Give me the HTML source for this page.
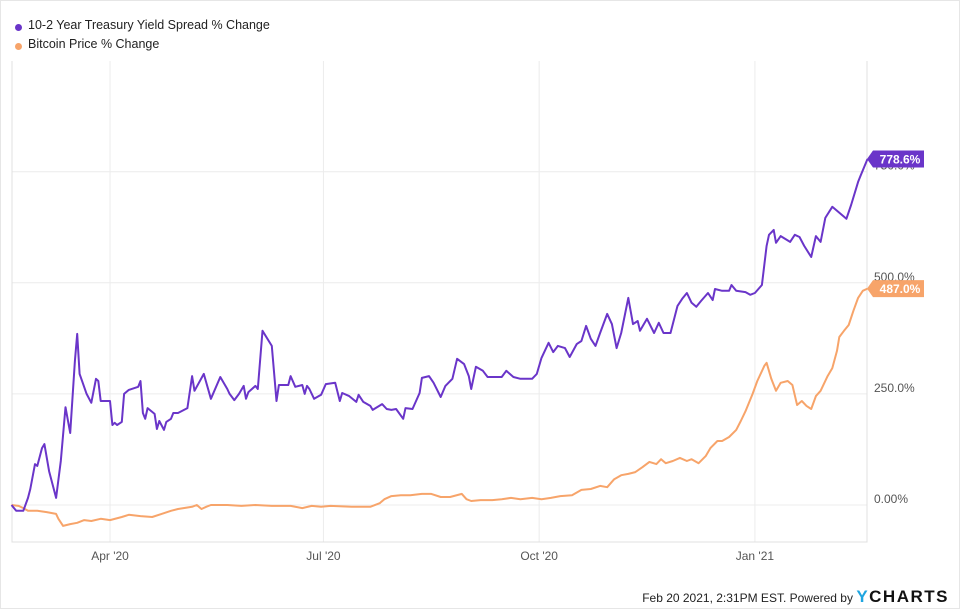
<!DOCTYPE html>
<html><head><meta charset="utf-8">
<style>
html,body{margin:0;padding:0;background:#fff;}
#wrap{position:relative;width:958px;height:607px;border:1px solid #e6e6e6;overflow:hidden;font-family:"Liberation Sans",sans-serif;}
.leg{position:absolute;left:27px;font-size:12.5px;color:#222;}
.dot{position:absolute;left:14px;width:7px;height:7px;border-radius:50%;}
#foot{position:absolute;right:10px;top:586px;font-size:12px;color:#222;}
#foot b{font-size:17px;letter-spacing:1.5px;color:#111;font-weight:bold;}
#foot b span{color:#1ea5e0;}
</style></head>
<body>
<div id="wrap">
<div class="dot" style="top:23px;background:#6a35c9"></div>
<div class="leg" style="top:17px">10-2 Year Treasury Yield Spread % Change</div>
<div class="dot" style="top:42px;background:#f7a46a"></div>
<div class="leg" style="top:36px">Bitcoin Price % Change</div>
<svg id="chart" width="958" height="607" style="position:absolute;left:0;top:0"></svg>
<div id="foot">Feb 20 2021, 2:31PM EST. Powered by <b><span>Y</span>CHARTS</b></div>
</div>
<script>
// day offsets from Feb 18 2020
const spreadDays=[1,3,6,8,9,11,12,14,15,17,20,22,24,26,28,29,30,33,35,37,38,39,43,44,45,46,48,49,51,55,56,57,58,59,62,63,64,66,67,69,70,72,76,78,79,83,86,90,93,94,96,98,100,101,102,105,106,108,112,114,115,119,120,122,125,126,127,128,130,133,135,139,141,142,145,148,149,151,154,155,159,161,163,165,168,169,172,175,176,179,181,184,186,189,191,194,196,197,199,202,204,210,212,215,218,223,225,227,230,232,234,237,239,242,244,246,248,250,252,255,257,259,261,264,266,268,269,272,275,277,279,282,285,287,289,291,293,295,298,300,301,304,307,308,310,314,316,318,321,323,324,326,327,329,333,335,337,339,342,344,346,348,351,353,357,359,362,363,366];
const spreadVals=[0,-13,-13,16,36,92,88,128,137,76,16,99,220,162,324,385,295,250,230,284,279,234,234,180,185,180,187,250,259,266,279,207,194,218,205,171,189,169,187,194,207,207,218,290,257,295,239,288,261,250,236,250,268,239,254,268,261,392,358,234,270,270,290,266,270,250,268,261,239,248,272,275,234,252,245,232,248,232,223,214,227,216,214,216,194,218,216,252,286,290,275,243,268,284,329,317,290,261,311,302,288,288,302,288,284,284,295,331,365,344,358,353,333,362,369,403,374,358,387,430,407,353,387,466,407,414,392,419,387,410,387,387,448,464,477,455,446,459,477,461,486,482,482,495,482,479,473,477,495,583,608,619,590,605,592,608,603,583,558,605,592,646,671,662,644,675,727,740,778.6];
const btcDays=[1,4,6,8,12,16,20,21,23,26,29,32,35,39,43,48,51,56,61,65,69,72,78,80,82,84,86,93,99,105,112,120,125,129,133,137,146,154,158,160,163,167,171,176,180,184,188,193,195,197,201,206,210,214,218,223,227,231,235,240,244,248,252,255,258,261,264,267,270,273,276,278,280,283,286,289,291,294,297,299,302,304,307,310,312,314,317,319,322,323,325,327,329,332,334,336,338,340,342,344,346,349,351,353,354,356,358,360,362,364,366];
const btcVals=[0,-2,-7,-13,-13,-16,-20,-31,-47,-43,-40,-34,-36,-31,-34,-27,-22,-25,-27,-20,-13,-9,-4,0,-9,-4,0,0,-2,0,-2,-2,-7,-2,-4,-2,-4,-4,4,13,20,22,22,25,25,18,18,25,13,9,11,11,13,16,13,16,13,16,20,22,34,36,43,40,58,67,70,74,85,97,92,103,94,99,106,99,103,94,110,128,144,144,153,169,189,211,250,279,313,320,284,257,275,279,270,225,234,223,216,245,257,290,308,347,378,392,405,437,466,482,487];
const yTicks=[0,250,500,750];
const yTickLabels=["0.00%","250.0%","500.0%","750.0%"];
const xTickDays=[43,134,226,318];
const xTickLabels=["Apr '20","Jul '20","Oct '20","Jan '21"];

const X0=8.2, XS=2.345, Y0=504, YS=0.4444;
const L=11,R=866,T=0,B=541;
const sx=d=>X0+d*XS, sy=v=>Y0-v*YS;
const svg=document.getElementById('chart');
const NS='http://www.w3.org/2000/svg';
function mk(tag,attrs){const e=document.createElementNS(NS,tag);for(const k in attrs)e.setAttribute(k,attrs[k]);svg.appendChild(e);return e;}

yTicks.forEach((v,i)=>{
  const g=mk('line',{x1:L,x2:R,y1:sy(v),y2:sy(v),stroke:'#ececec','stroke-width':1});
  
  
  const t=mk('text',{x:873,y:sy(v)-2,'font-size':12,fill:'#555','font-family':'Liberation Sans, sans-serif'});
  t.textContent=yTickLabels[i];
  
  
});
xTickDays.forEach((d,i)=>{
  const g=mk('line',{x1:sx(d),x2:sx(d),y1:60,y2:B,stroke:'#ececec','stroke-width':1});
  
  
  const t=mk('text',{x:sx(d),y:559,'font-size':12,fill:'#555','text-anchor':'middle','font-family':'Liberation Sans, sans-serif'});
  t.textContent=xTickLabels[i];
  
  
});
const ax=mk('path',{d:`M${L},60V${B}H${R}V60`,fill:'none',stroke:'#e0e0e0','stroke-width':1});



function line(days,vals,color,name){
  const d=days.map((dd,i)=>(i?'L':'M')+sx(dd).toFixed(1)+','+sy(vals[i]).toFixed(1)).join('');
  const p=mk('path',{d:d,fill:'none',stroke:color,'stroke-width':2,'stroke-linejoin':'round'});
  
  
}
line(btcDays,btcVals,'#f7a46a','bitcoin-line');
line(spreadDays,spreadVals,'#6a35c9','spread-line');

function callout(v,color,label,name){
  const y=sy(v);
  const p=mk('path',{d:`M${R},${y}L${R+6},${y-8.5}H${R+57}V${y+8.5}H${R+6}Z`,fill:color});
  
  
  const t=mk('text',{x:R+33,y:y+4.5,'font-size':12,'font-weight':'bold',fill:'#fff','text-anchor':'middle','font-family':'Liberation Sans, sans-serif'});
  t.textContent=label;
  
  
}
callout(spreadVals[spreadVals.length-1],'#6a35c9',spreadVals[spreadVals.length-1].toFixed(1)+'%','spread');
callout(btcVals[btcVals.length-1],'#f7a46a',btcVals[btcVals.length-1].toFixed(1)+'%','bitcoin');
</script>
</body></html>
